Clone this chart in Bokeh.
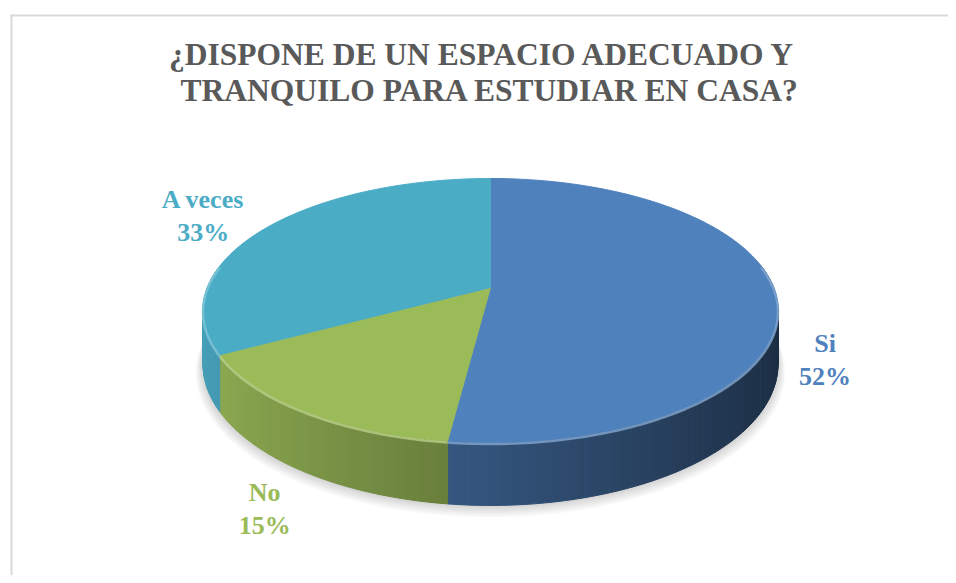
import numpy as np
from bokeh.plotting import figure
from bokeh.models import Range1d
from bokeh.core.properties import value
from bokeh.embed import file_html
from bokeh.resources import INLINE

# ---------------- data ----------------
categories = ["Si", "No", "A veces"]
percents = [52, 15, 33]
colors = ["#4F81BD", "#9BBB59", "#4BACC6"]
title_lines = ["¿DISPONE DE UN ESPACIO ADECUADO Y", "TRANQUILO PARA ESTUDIAR EN CASA?"]

# ---------------- layout / style ----------------
W, H = 948, 575
CX, CY = 490.0, 287.0          # projected pie centre (px)
A, B, K = 283.1, 78.0, 0.1742  # projective ellipse parameters
D0 = 52.0                      # wall depth
label_nudge = [(-9, 63), (5, 68), (-23, -1)]
title_centres = [482, 489.5]
title_middles = [54, 90]
FONT = value("Liberation Serif")


def proj(theta, r=1.0):
    u = r * np.sin(theta)
    v = -r * np.cos(theta)
    den = 1.0 - K * v
    return CX + A * u / den, (B * v + CY) / den


def depth(theta):
    v = -np.cos(theta)
    return D0 / (1.0 - K * v)


def shade(hexcol, s):
    r, g, b = (int(hexcol[i:i + 2], 16) for i in (1, 3, 5))
    f = lambda c: max(0, min(255, int(round(c * s))))
    return "#%02x%02x%02x" % (f(r), f(g), f(b))


def lighten(hexcol, t):
    r, g, b = (int(hexcol[i:i + 2], 16) for i in (1, 3, 5))
    f = lambda c: int(round(c + (255 - c) * t))
    return "#%02x%02x%02x" % (f(r), f(g), f(b))


p = figure(width=W, height=H, x_range=Range1d(0, W), y_range=Range1d(H, 0),
           output_backend="svg", toolbar_location=None,
           x_axis_type=None, y_axis_type=None, min_border=0,
           outline_line_color=None, background_fill_color="white",
           border_fill_color="white")
p.grid.visible = False

# chart border (left and top edges visible in the reference)
p.line(x=[11, 11], y=[14, H], line_color="#D9D9D9", line_width=2)
p.line(x=[10, W], y=[15, 15], line_color="#D9D9D9", line_width=2)

total = float(sum(percents))
fracs = np.array(percents) / total
ends = np.cumsum(fracs) * 2 * np.pi
starts = ends - fracs * 2 * np.pi

# soft shadow below the pie
full = np.linspace(0, 2 * np.pi, 240)
for i in range(1, 7):
    sx, sy = proj(full, 1.0 + 0.004 * i)
    sy = sy + depth(full) + 1.2 * i
    p.patch(x=sx, y=sy, fill_color="#000000", fill_alpha=0.028, line_color=None)

# side walls (front half), shaded strips
wx, wy, wc = [], [], []
lo, hi = np.radians(80), np.radians(280)
for s0, s1, col in zip(starts, ends, colors):
    a0, a1 = max(s0, lo), min(s1, hi)
    if a1 <= a0:
        continue
    n = max(2, int(np.degrees(a1 - a0)) + 1)
    th = np.linspace(a0, a1, n)
    for t0, t1 in zip(th[:-1], th[1:]):
        x0, y0 = proj(t0)
        x1, y1 = proj(t1)
        d0, d1 = depth(t0), depth(t1)
        wx.append([x0, x1, x1, x0])
        wy.append([y0, y1, y1 + d1, y0 + d0])
        u = np.sin(0.5 * (t0 + t1))
        wc.append(shade(col, 0.64 - 0.29 * u))
p.patches(xs=wx, ys=wy, fill_color=wc, line_color=wc, line_width=1)

# top faces
tx, ty = [], []
for s0, s1 in zip(starts, ends):
    n = max(3, int(np.degrees(s1 - s0)) + 1)
    th = np.linspace(s0, s1, n)
    ax, ay = proj(th)
    tx.append([CX] + list(ax))
    ty.append([CY] + list(ay))
p.patches(xs=tx, ys=ty, fill_color=colors, line_color=colors, line_width=1)

# rim highlight on the front edge
for s0, s1, col in zip(starts, ends, colors):
    a0, a1 = max(s0, lo), min(s1, hi)
    if a1 <= a0:
        continue
    th = np.linspace(a0, a1, max(2, int(np.degrees(a1 - a0)) + 1))
    rx, ry = proj(th)
    p.line(x=rx, y=ry + 1.5, line_color=lighten(col, 0.3), line_width=2.5, line_alpha=0.8)

# data labels
mids = 0.5 * (starts + ends)
lx, ly = proj(mids, 1.2)
lx = lx + np.array([n[0] for n in label_nudge])
ly = ly + np.array([n[1] for n in label_nudge])
texts = ["%s\n%d%%" % (c, v) for c, v in zip(categories, percents)]
p.text(x=lx, y=ly, text=texts, text_color=colors, text_font=FONT,
       text_font_style="bold", text_font_size=value("26px"),
       text_align="center", text_baseline="middle", text_line_height=1.15)

# title
p.text(x=title_centres, y=title_middles, text=title_lines, text_color="#595959",
       text_font=FONT, text_font_style="bold", text_font_size=value("31.5px"),
       text_align="center", text_baseline="middle")

open("out.html", "w").write(file_html(p, INLINE))
